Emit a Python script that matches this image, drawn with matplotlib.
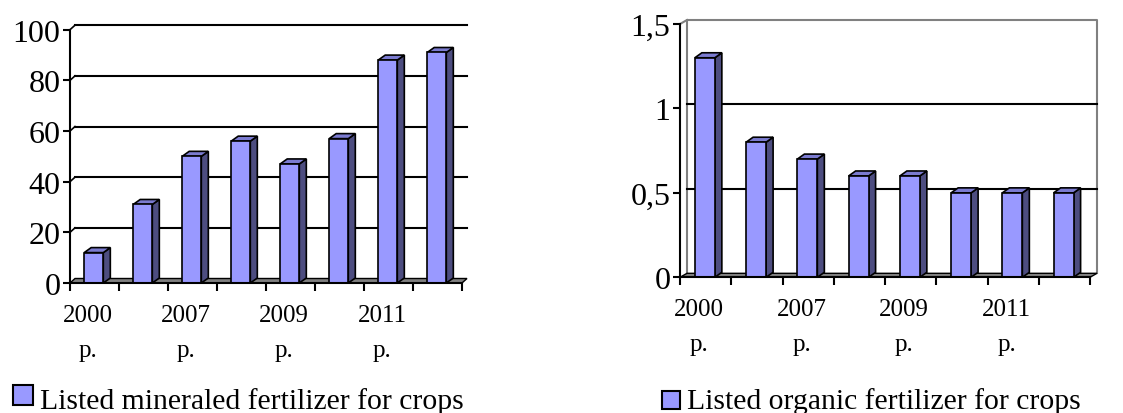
import matplotlib.pyplot as plt
from matplotlib.patches import Polygon, Rectangle
import numpy as np

# Data
tick_labels = ['2000\np.', '', '2007\np.', '', '2009\np.', '', '2011\np.', '']
mineral = [12, 31, 50, 56, 47, 57, 88, 91]
organic = [1.3, 0.8, 0.7, 0.6, 0.6, 0.5, 0.5, 0.5]
mineral_ticks = [0, 20, 40, 60, 80, 100]
organic_ticks = [0, 0.5, 1, 1.5]
organic_tick_labels = ['0', '0,5', '1', '1,5']

plt.rcParams['font.family'] = ['Liberation Serif', 'DejaVu Serif']

W, H = 1123, 414
fig = plt.figure(figsize=(W / 100, H / 100), dpi=100)

FRONT = '#9999ff'
SIDE = '#4d4d80'
TOP = '#7b7bd0'
FLOOR = '#808080'


def bar_chart(rect_px, values, ymax, ticks, ticklabels, bar_d, wall_d, wall_frame):
    # rect_px: left, top, right, bottom of the front plane in pixels
    l, t, r, b = rect_px
    ax = fig.add_axes([l / W, 1 - b / H, (r - l) / W, (b - t) / H])
    n = len(values)
    ax.set_xlim(0, n)
    ax.set_ylim(0, ymax)
    ux = n / (r - l)
    uy = ymax / (b - t)
    bdx, bdy = bar_d[0] * ux, bar_d[1] * uy
    wdx, wdy = wall_d[0] * ux, wall_d[1] * uy

    # floor
    ax.add_patch(Polygon([(0, 0), (n, 0), (n + wdx, wdy), (wdx, wdy)],
                         closed=True, facecolor=FLOOR, edgecolor='black',
                         lw=1.0, clip_on=False, zorder=1))

    # back wall frame
    if wall_frame:
        ax.plot([wdx, wdx, n + wdx, n + wdx], [wdy, ymax + wdy, ymax + wdy, wdy],
                color='#808080', lw=1.5, clip_on=False, zorder=0.5)
        ax.plot([0, wdx], [ymax, ymax + wdy], color='#808080', lw=1.5,
                clip_on=False, zorder=0.5)

    # gridlines on the back wall
    for v in ticks[1:]:
        if wall_frame and v == ymax:
            continue
        ax.plot([wdx, n + wdx], [v + wdy, v + wdy], color='black', lw=1.5,
                clip_on=False, zorder=0.6)
        if not wall_frame:
            ax.plot([0, wdx], [v, v + wdy], color='black', lw=1.2,
                    clip_on=False, zorder=0.6)

    # columns
    x0 = np.arange(n) + 0.29
    w = 0.39
    ax.bar(x0, values, width=w, align='edge', color=FRONT, edgecolor='black',
           lw=1.2, zorder=3)
    for xi, v in zip(x0, values):
        ax.add_patch(Polygon([(xi + w, 0), (xi + w + bdx, bdy), (xi + w + bdx, v + bdy),
                              (xi + w, v)], closed=True, facecolor=SIDE,
                             edgecolor='black', lw=1.2, zorder=2.9, clip_on=False))
        ax.add_patch(Polygon([(xi, v), (xi + w, v), (xi + w + bdx, v + bdy),
                              (xi + bdx, v + bdy)], closed=True, facecolor=TOP,
                             edgecolor='black', lw=1.2, zorder=2.9, clip_on=False))

    for s in ['top', 'right']:
        ax.spines[s].set_visible(False)
    ax.spines['left'].set_linewidth(1.5)
    ax.spines['bottom'].set_linewidth(1.5)
    ax.spines['left'].set_zorder(4)
    ax.spines['bottom'].set_zorder(4)
    ax.patch.set_alpha(0)

    ax.set_yticks(ticks)
    ax.set_yticklabels(ticklabels, fontsize=23)
    ax.tick_params(axis='y', direction='out', length=5, width=1.5, pad=2)

    ax.set_xticks(np.arange(n + 1))
    ax.set_xticklabels([])
    ax.tick_params(axis='x', which='major', direction='out', length=6, width=1.5)
    ax.set_xticks(np.arange(n) + 0.37, minor=True)
    ax.set_xticklabels(tick_labels, minor=True, fontsize=18, linespacing=1.75)
    ax.tick_params(axis='x', which='minor', length=0, pad=15)
    return ax


bar_chart((70, 30.7, 462, 284), mineral, 100, mineral_ticks,
          [str(v) for v in mineral_ticks], (7, 5), (5, 4.5), False)
bar_chart((680, 25, 1090, 278.3), organic, 1.5, organic_ticks,
          organic_tick_labels, (7, 5), (7, 4), True)


# legends
def legend_item(x_box, y_top, size, text):
    fig.patches.append(Rectangle((x_box / W, 1 - (y_top + size) / H), size / W, size / H,
                                 transform=fig.transFigure, facecolor=FRONT,
                                 edgecolor='black', lw=1.5))
    fig.text((x_box + size + 7) / W, 1 - 409 / H, text, fontsize=21.3,
             va='baseline', ha='left')


legend_item(13, 386, 20, 'Listed mineraled fertilizer for crops')
legend_item(662, 392, 18, 'Listed organic fertilizer for crops')

fig.savefig('out.png', dpi=100)
